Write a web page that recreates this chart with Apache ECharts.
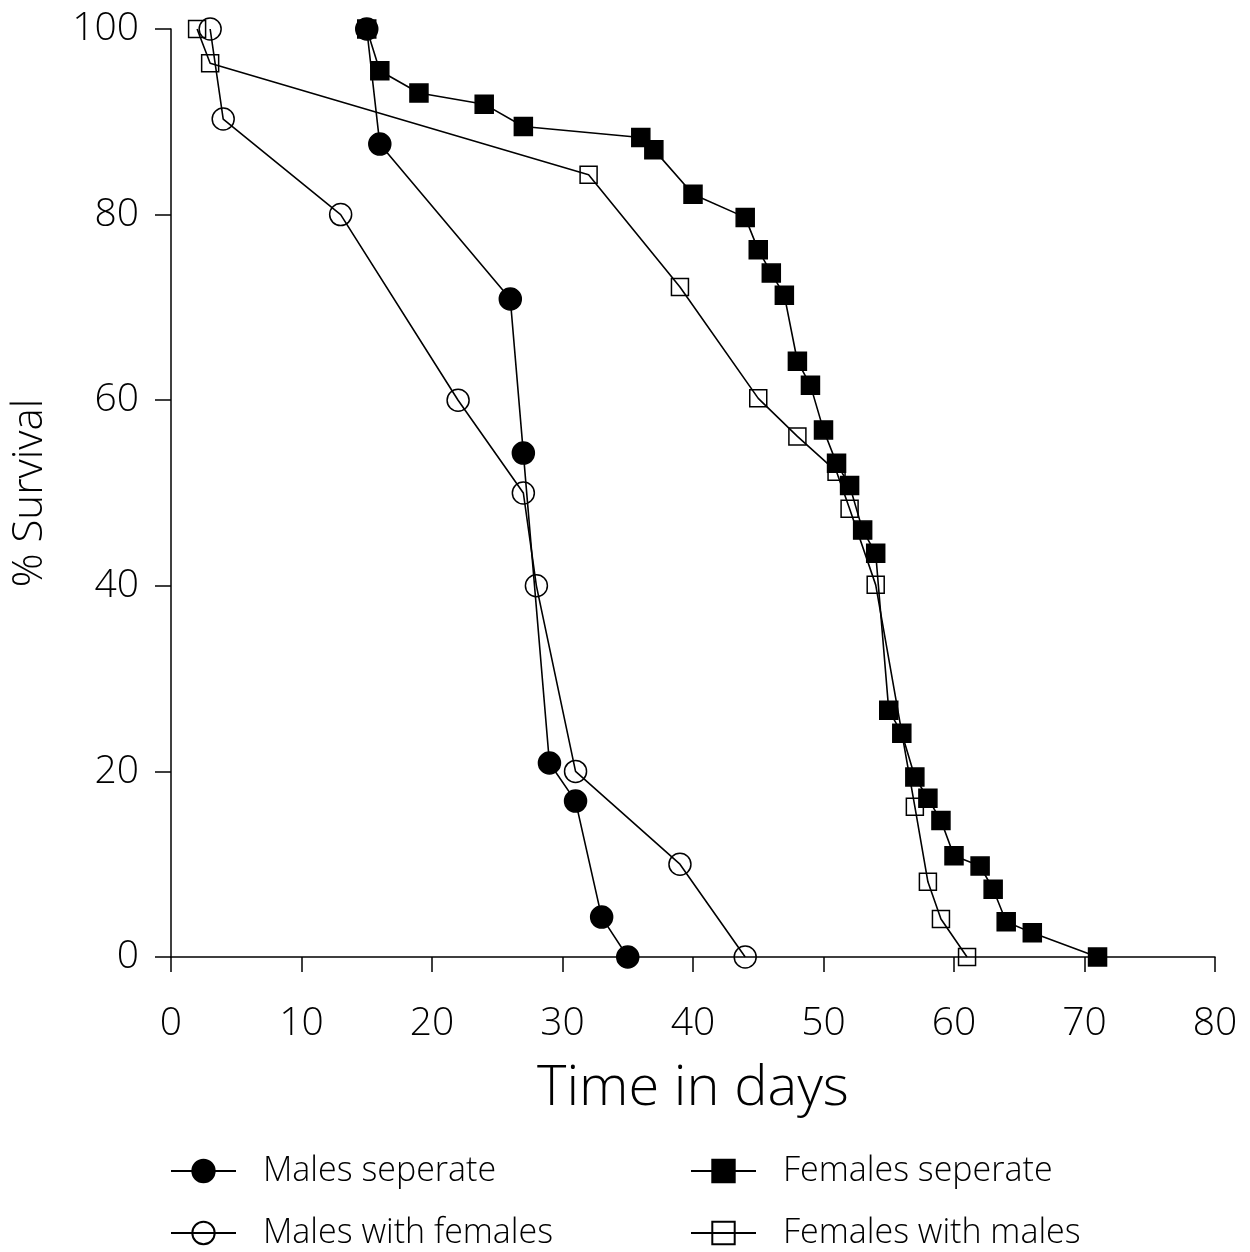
<!DOCTYPE html>
<html><head><meta charset="utf-8">
<script src="https://cdn.jsdelivr.net/npm/echarts@6/dist/echarts.min.js"></script>
<style>html,body{margin:0;padding:0;background:#fff}#c{width:1250px;height:1252px}</style>
</head><body><div id="c"></div>
<script>
const xTicks = [0,10,20,30,40,50,60,70,80];
const yTicks = [0,20,40,60,80,100];

const malesSepDays = [15,16,26,27,29,31,33,35];
const malesSepSurv = [100,87.6,70.9,54.3,20.9,16.8,4.3,0];

const malesWithDays = [3,4,13,22,27,28,31,39,44];
const malesWithSurv = [100,90.3,80,60,50,40,20,10,0];

const femSepDays = [15,16,19,24,27,36,37,40,44,45,46,47,48,49,50,51,52,53,54,55,56,57,58,59,60,62,63,64,66,71];
const femSepSurv = [100,95.5,93.1,91.9,89.5,88.3,87,82.2,79.7,76.2,73.7,71.3,64.2,61.6,56.8,53.2,50.8,46,43.5,26.6,24.1,19.4,17.1,14.7,10.9,9.8,7.3,3.8,2.6,0];

const femWithDays = [2,3,32,39,45,48,51,52,54,57,58,59,61];
const femWithSurv = [100,96.3,84.3,72.2,60.2,56.1,52.3,48.3,40.1,16.2,8.1,4.1,0];

const names = ['Males seperate','Males with females','Females seperate','Females with males'];

function pairs(xs, ys){ return xs.map((x,i)=>[x, ys[i]]); }

const FONT = "'Open Sans', 'DejaVu Sans', sans-serif";
const chart = echarts.init(document.getElementById('c'));

function series(name, xs, ys, symbol, size, filled){
  return {
    name, type:'line', data: pairs(xs, ys), symbol, symbolSize: size,
    z: filled ? 3 : 2,
    lineStyle:{color:'#000', width:1.6},
    itemStyle:{color: filled ? '#000' : 'transparent', borderColor:'#000', borderWidth:1.5},
    emphasis:{disabled:true}, animation:false
  };
}

const legendBase = {
  orient:'horizontal', itemWidth:65, itemHeight:28, itemGap:0, padding:0,
  textStyle:{fontFamily:FONT, fontSize:34, color:'#000', fontWeight:300, padding:[0,0,0,22]},
  selectedMode:false
};

chart.setOption({
  animation:false,
  backgroundColor:'#fff',
  grid:{left:171, right:35, top:29, bottom:295, containLabel:false},
  xAxis:{
    type:'value', min:0, max:80, interval:10,
    name:'Time in days', nameLocation:'middle', nameGap:104,
    nameTextStyle:{fontFamily:FONT, fontSize:56, fontWeight:300, color:'#000'},
    axisLine:{show:true, lineStyle:{color:'#000', width:1.5}},
    axisTick:{show:true, length:15, lineStyle:{color:'#000', width:1.5}},
    axisLabel:{margin:47, fontFamily:FONT, fontSize:39, fontWeight:300, color:'#000'},
    splitLine:{show:false}
  },
  yAxis:{
    type:'value', min:0, max:100, interval:20,
    name:'% Survival', nameLocation:'middle', nameGap:120, nameRotate:90,
    nameTextStyle:{fontFamily:FONT, fontSize:42, fontWeight:300, color:'#000'},
    axisLine:{show:true, lineStyle:{color:'#000', width:1.5}},
    axisTick:{show:true, length:16, lineStyle:{color:'#000', width:1.5}},
    axisLabel:{margin:32, fontFamily:FONT, fontSize:39, fontWeight:300, color:'#000'},
    splitLine:{show:false}
  },
  legend:[
    Object.assign({}, legendBase, {data:[names[0]], left:170, top:1154}),
    Object.assign({}, legendBase, {data:[names[1]], left:170, top:1216}),
    Object.assign({}, legendBase, {data:[names[2]], left:690, top:1154}),
    Object.assign({}, legendBase, {data:[names[3]], left:690, top:1216})
  ],
  series:[
    series(names[0], malesSepDays, malesSepSurv, 'circle', 22, true),
    series(names[1], malesWithDays, malesWithSurv, 'circle', 22, false),
    series(names[2], femSepDays, femSepSurv, 'rect', 18, true),
    series(names[3], femWithDays, femWithSurv, 'rect', 17, false)
  ]
});
</script></body></html>
